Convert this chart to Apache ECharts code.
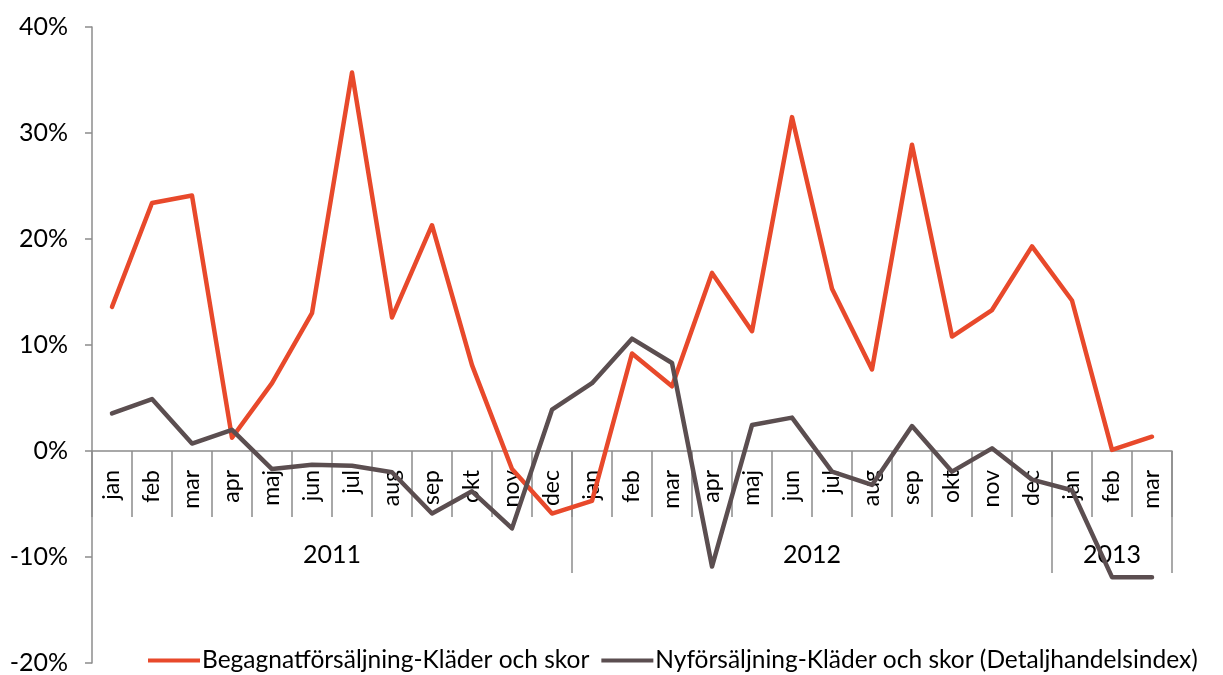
<!DOCTYPE html>
<html>
<head>
<meta charset="utf-8">
<script src="https://cdn.jsdelivr.net/npm/echarts@6/dist/echarts.min.js"></script>
<style>
html,body{margin:0;padding:0;background:#fff;}
#c{width:1223px;height:675px;}
</style>
</head>
<body>
<div id="c"></div>
<script>
const months = ['jan','feb','mar','apr','maj','jun','jul','aug','sep','okt','nov','dec',
                'jan','feb','mar','apr','maj','jun','jul','aug','sep','okt','nov','dec',
                'jan','feb','mar'];
const years = ['2011','2012','2013'];
const yearMonthCounts = [12,12,3];
const yTicks = [-20,-10,0,10,20,30,40];

const begagnatName = 'Begagnatförsäljning-Kläder och skor';
const begagnat = [13.6,23.4,24.1,1.25,6.4,13.0,35.7,12.6,21.3,8.1,-1.7,-5.9,
                  -4.7,9.2,6.1,16.8,11.3,31.5,15.3,7.7,28.9,10.8,13.3,19.3,
                  14.2,0.1,1.35];
const nyName = 'Nyförsäljning-Kläder och skor (Detaljhandelsindex)';
const ny = [3.55,4.9,0.7,2.0,-1.7,-1.3,-1.4,-2.0,-5.9,-3.8,-7.3,3.9,
            6.4,10.6,8.3,-10.9,2.45,3.15,-1.95,-3.2,2.35,-1.95,0.25,-2.7,
            -3.7,-11.9,-11.9];

const groups = [];
let acc = 0;
yearMonthCounts.forEach((n) => { groups.push([acc, acc + n - 1]); acc += n; });

const FONT = 'Lato, "Open Sans", sans-serif';
const GRAY = '#8c8c8c';
const W = 1223, H = 675;
const GRID = {left: 92, right: 51, top: 27, bottom: 12};
const yMin = yTicks[0], yMax = yTicks[yTicks.length - 1];
const gridH = H - GRID.top - GRID.bottom;
const zeroOffset = -gridH * (0 - yMin) / (yMax - yMin);

const chart = echarts.init(document.getElementById('c'));
chart.setOption({
  animation: false,
  backgroundColor: '#fff',
  grid: Object.assign({outerBoundsMode: 'none', containLabel: false}, GRID),
  legend: {
    data: [begagnatName, nyName],
    left: 148, top: 648, width: 1075, padding: 0,
    itemWidth: 52, itemHeight: 4, itemGap: 12,
    icon: 'rect',
    textStyle: {fontFamily: FONT, fontSize: 24.5, color: '#000', padding: [0,0,0,-3]}
  },
  xAxis: {
    type: 'category',
    data: months,
    boundaryGap: true,
    offset: zeroOffset,
    axisLine: {onZero: false, lineStyle: {color: GRAY, width: 1.5}},
    axisTick: {show: true, interval: 0, length: 66, lineStyle: {color: GRAY, width: 1.5}},
    axisLabel: {interval: 0, rotate: 90, margin: 19, fontFamily: FONT, fontSize: 23, color: '#000'},
    splitLine: {show: false}
  },
  yAxis: {
    type: 'value',
    min: yMin, max: yMax, interval: 10,
    axisLine: {show: true, lineStyle: {color: GRAY, width: 1.5}},
    axisTick: {show: true, length: 7, lineStyle: {color: GRAY, width: 1.5}},
    axisLabel: {formatter: '{value}%', margin: 24, fontFamily: FONT, fontSize: 25, color: '#000'},
    splitLine: {show: false}
  },
  series: [
    {
      type: 'custom',
      silent: true,
      z: 1,
      data: groups,
      encode: {x: [0, 1]},
      renderItem: function (params, api) {
        const s = api.value(0), e = api.value(1);
        const band = api.size([1, 0])[0];
        const p0 = api.coord([s, 0]);
        const p1 = api.coord([e, 0]);
        const left = p0[0] - band / 2, right = p1[0] + band / 2, y0 = p0[1];
        return {
          type: 'group',
          children: [
            {type: 'line', shape: {x1: right, y1: y0, x2: right, y2: y0 + 122},
             style: {stroke: GRAY, lineWidth: 1.5}},
            {type: 'text', style: {text: years[params.dataIndex], x: (left + right) / 2, y: y0 + 104,
             align: 'center', verticalAlign: 'middle', font: '25px ' + FONT, fill: '#000'}}
          ]
        };
      }
    },
    {
      name: begagnatName, type: 'line', data: begagnat, symbol: 'none', z: 3,
      lineStyle: {color: '#E8492B', width: 4.5, cap: 'round', join: 'round'},
      itemStyle: {color: '#E8492B'}
    },
    {
      name: nyName, type: 'line', data: ny, symbol: 'none', z: 4,
      lineStyle: {color: '#5B4E50', width: 4.5, cap: 'round', join: 'round'},
      itemStyle: {color: '#5B4E50'}
    }
  ]
});
</script>
</body>
</html>
